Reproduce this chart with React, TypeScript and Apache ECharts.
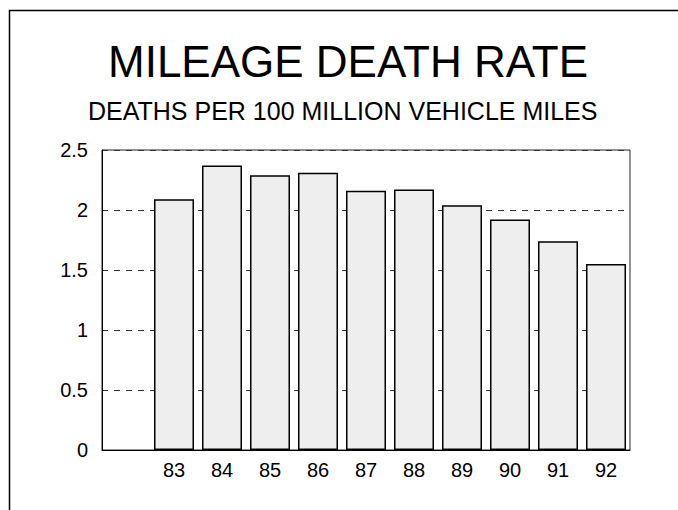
import React, { useEffect, useRef } from "react";
import * as echarts from "echarts";

const TITLE = "MILEAGE DEATH RATE";
const SUBTITLE = "DEATHS PER 100 MILLION VEHICLE MILES";
const categories = ["", "83", "84", "85", "86", "87", "88", "89", "90", "91", "92"];
const rates: (number | string)[] = ["-", 2.09, 2.37, 2.29, 2.31, 2.16, 2.17, 2.04, 1.92, 1.74, 1.55];
const FONT = "'Liberation Sans', Arial, Helvetica, sans-serif";

export default function App() {
  const ref = useRef<HTMLDivElement>(null);
  useEffect(() => {
    if (!ref.current) return;
    const chart = echarts.init(ref.current, undefined, { renderer: "svg" });
    chart.setOption({
      animation: false,
      backgroundColor: "#fff",
      textStyle: { fontFamily: FONT },
      title: [
        {
          text: TITLE,
          left: 108,
          top: 39,
          padding: 0,
          textStyle: { fontSize: 44, fontWeight: "normal", color: "#000", fontFamily: FONT },
        },
        {
          text: SUBTITLE,
          left: 88,
          top: 98,
          padding: 0,
          textStyle: { fontSize: 25, fontWeight: "normal", color: "#000", fontFamily: FONT },
        },
      ],
      graphic: [
        {
          type: "rect",
          silent: true,
          shape: { x: 9.5, y: 10.5, width: 900, height: 900 },
          style: { fill: "none", stroke: "#000", lineWidth: 1.5 },
        },
      ],
      grid: {
        left: 102,
        right: 48,
        top: 150,
        bottom: 60,
        show: true,
        borderColor: "#222",
        borderWidth: 1,
        backgroundColor: "transparent",
      },
      xAxis: {
        type: "category",
        data: categories,
        boundaryGap: true,
        axisTick: { show: false },
        axisLine: { show: true, lineStyle: { color: "#000", width: 1 } },
        axisLabel: { fontSize: 20, color: "#000", margin: 10, fontFamily: FONT },
        splitLine: { show: false },
      },
      yAxis: {
        type: "value",
        min: 0,
        max: 2.5,
        interval: 0.5,
        axisTick: { show: false },
        axisLine: { show: true, lineStyle: { color: "#000", width: 1 } },
        axisLabel: { fontSize: 20, color: "#000", margin: 14, fontFamily: FONT },
        splitLine: {
          show: true,
          lineStyle: { color: "#333", width: 1, type: [6, 6] },
        },
      },
      series: [
        {
          type: "bar",
          data: rates,
          barWidth: 40,
          itemStyle: { color: "#eeeeee", borderColor: "#000", borderWidth: 1.5 },
        },
      ],
    });
    return () => chart.dispose();
  }, []);
  return (
    <div
      ref={ref}
      style={{ position: "fixed", left: 0, top: 0, width: 678, height: 510, background: "#fff" }}
    />
  );
}
